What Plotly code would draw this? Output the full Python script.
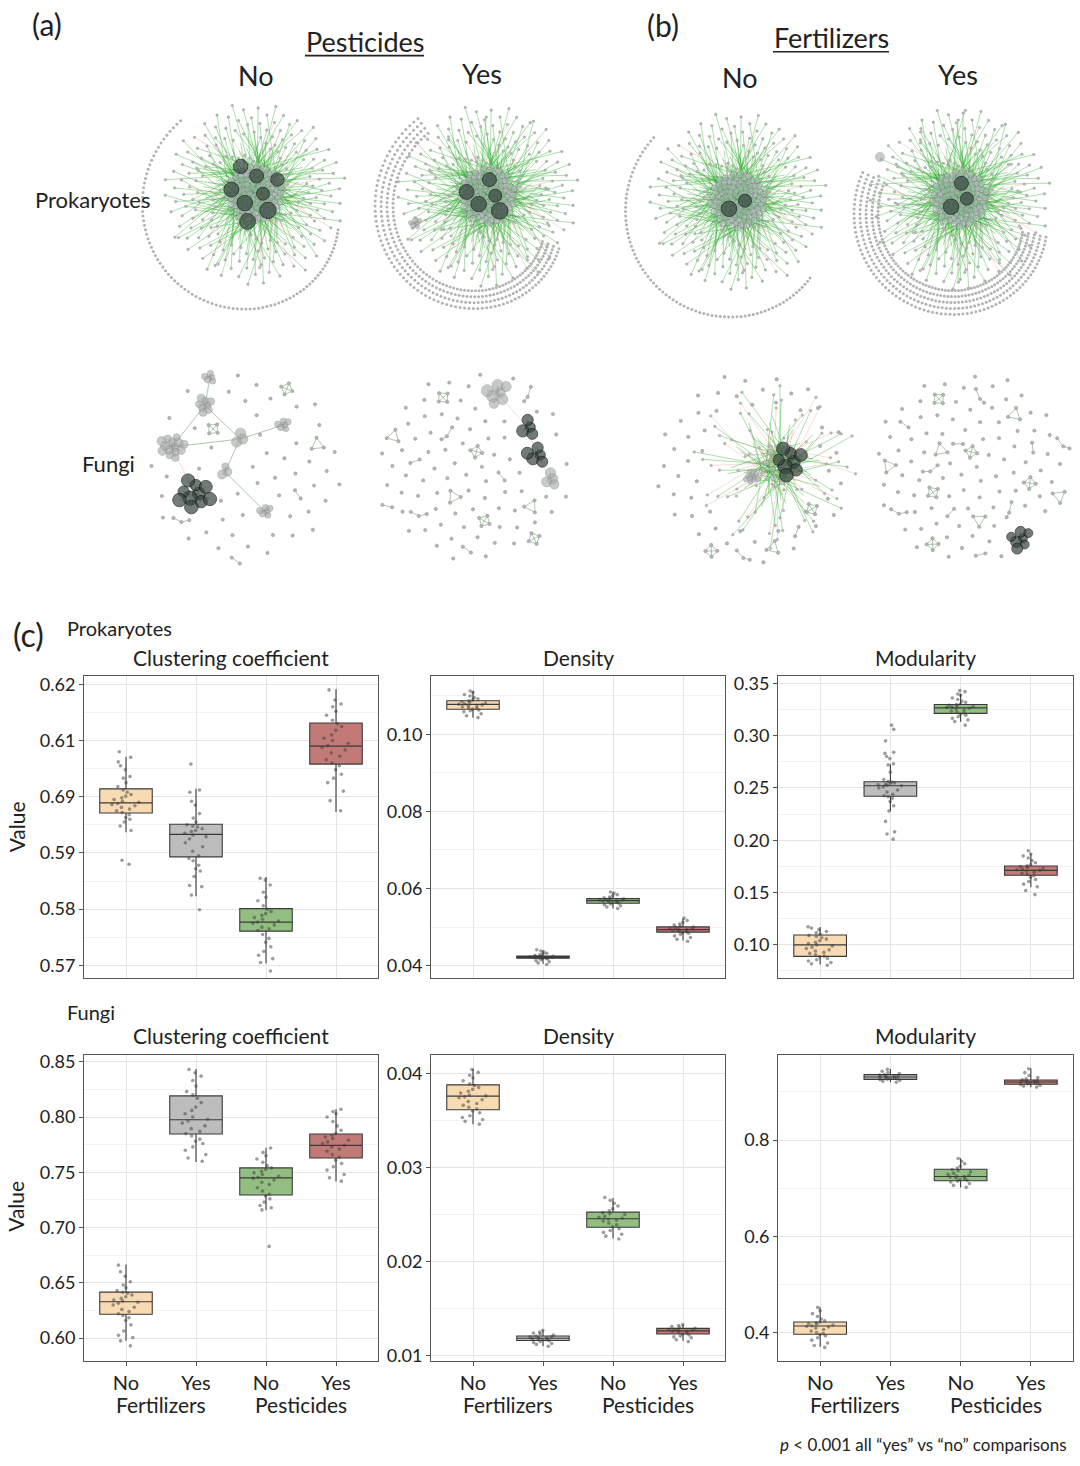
import math
import plotly.graph_objects as go

W, H = 1080, 1466
FONT = "Lato"

# ---------------------------------------------------------------- (c) box plot data
groups = ["No", "Yes", "No", "Yes"]          # Fertilizers No/Yes, Pesticides No/Yes
group_fill = ["#f8dbb2", "#bdbdbd", "#93be82", "#c27a77"]

# per group: lower whisker, Q1, median, Q3, upper whisker
prok_clust_box = [(0.5937, 0.5971, 0.5989, 0.6014, 0.6071),
                  (0.5823, 0.5893, 0.5933, 0.5951, 0.6014),
                  (0.5704, 0.5761, 0.5777, 0.5801, 0.5857),
                  (0.5973, 0.6058, 0.6090, 0.6131, 0.6191)]
prok_clust_pts = [
    [0.5940, 0.5948, 0.5955, 0.5960, 0.5963, 0.5968, 0.5972, 0.5975, 0.5978, 0.5981, 0.5984, 0.5986,
     0.5988, 0.5990, 0.5992, 0.5995, 0.5998, 0.6001, 0.6004, 0.6008, 0.6012, 0.6018, 0.6025, 0.6033,
     0.6036, 0.6048, 0.6055, 0.6062, 0.6070, 0.6080, 0.5887, 0.5880],
    [0.5825, 0.5840, 0.5842, 0.5858, 0.5868, 0.5872, 0.5878, 0.5886, 0.5890, 0.5895, 0.5903, 0.5911,
     0.5918, 0.5925, 0.5929, 0.5932, 0.5935, 0.5938, 0.5940, 0.5943, 0.5946, 0.5948, 0.5950, 0.5955,
     0.5962, 0.5970, 0.5985, 0.5992, 0.6008, 0.6012, 0.5799, 0.6058],
    [0.5705, 0.5712, 0.5718, 0.5725, 0.5733, 0.5741, 0.5748, 0.5755, 0.5762, 0.5765, 0.5768, 0.5772,
     0.5775, 0.5777, 0.5779, 0.5782, 0.5785, 0.5789, 0.5792, 0.5796, 0.5800, 0.5806, 0.5815, 0.5821,
     0.5830, 0.5843, 0.5852, 0.5855, 0.5690],
    [0.5975, 0.5993, 0.6010, 0.6025, 0.6033, 0.6040, 0.6048, 0.6055, 0.6060, 0.6066, 0.6072, 0.6078,
     0.6083, 0.6088, 0.6091, 0.6095, 0.6100, 0.6104, 0.6110, 0.6118, 0.6125, 0.6130, 0.6136, 0.6145,
     0.6152, 0.6160, 0.6165, 0.6172, 0.6190]]
prok_clust_ticks = [0.57, 0.58, 0.59, 0.60, 0.61, 0.62]
prok_clust_labels = ["0.57", "0.58", "0.59", "0.69", "0.61", "0.62"]

prok_dens_box = [(0.1043, 0.10646, 0.10774, 0.10868, 0.1113),
                 (0.0405, 0.0419, 0.0422, 0.0425, 0.0440),
                 (0.0548, 0.05616, 0.05685, 0.05736, 0.0590),
                 (0.0465, 0.04868, 0.04934, 0.05003, 0.0522)]
prok_dens_pts = [
    [0.1043, 0.1048, 0.1053, 0.1058, 0.1061, 0.1063, 0.1065, 0.1067, 0.1069, 0.1071, 0.1073, 0.1075,
     0.1076, 0.1078, 0.1079, 0.1081, 0.1083, 0.1085, 0.1087, 0.1089, 0.1092, 0.1095, 0.1099, 0.1103,
     0.1108, 0.1112],
    [0.0403, 0.0407, 0.0410, 0.0413, 0.0415, 0.0417, 0.0418, 0.0419, 0.0420, 0.0421, 0.0421, 0.0422,
     0.0422, 0.0423, 0.0424, 0.0424, 0.0425, 0.0426, 0.0428, 0.0430, 0.0432, 0.0435, 0.0438, 0.0441],
    [0.0548, 0.0552, 0.0555, 0.0558, 0.0560, 0.0562, 0.0563, 0.0565, 0.0566, 0.0567, 0.0568, 0.0569,
     0.0570, 0.0571, 0.0572, 0.0573, 0.0574, 0.0576, 0.0578, 0.0581, 0.0584, 0.0588, 0.0591],
    [0.0463, 0.0468, 0.0473, 0.0477, 0.0481, 0.0484, 0.0486, 0.0488, 0.0490, 0.0492, 0.0493, 0.0494,
     0.0495, 0.0497, 0.0499, 0.0500, 0.0502, 0.0505, 0.0508, 0.0512, 0.0517, 0.0523]]
prok_dens_ticks = [0.04, 0.06, 0.08, 0.10]
prok_dens_labels = ["0.04", "0.06", "0.08", "0.10"]

prok_mod_box = [(0.0812, 0.0890, 0.1000, 0.1094, 0.1170),
                (0.2277, 0.2421, 0.2521, 0.2559, 0.2725),
                (0.3133, 0.3212, 0.3265, 0.3297, 0.3400),
                (0.1550, 0.1665, 0.1712, 0.1753, 0.1870)]
prok_mod_pts = [
    [0.0805, 0.0818, 0.0830, 0.0845, 0.0858, 0.0870, 0.0885, 0.0892, 0.0905, 0.0918, 0.0928, 0.0940,
     0.0952, 0.0965, 0.0978, 0.0990, 0.1000, 0.1012, 0.1025, 0.1040, 0.1055, 0.1068, 0.1080, 0.1090,
     0.1100, 0.1115, 0.1128, 0.1145, 0.1160, 0.1172],
    [0.2010, 0.2060, 0.2080, 0.2180, 0.2280, 0.2330, 0.2370, 0.2400, 0.2415, 0.2425, 0.2440, 0.2460,
     0.2480, 0.2500, 0.2510, 0.2520, 0.2525, 0.2530, 0.2535, 0.2540, 0.2548, 0.2555, 0.2562, 0.2580,
     0.2650, 0.2720, 0.2730, 0.2780, 0.2800, 0.2830, 0.2840, 0.2950, 0.3060, 0.3100],
    [0.3100, 0.3135, 0.3150, 0.3165, 0.3180, 0.3195, 0.3205, 0.3215, 0.3225, 0.3235, 0.3245, 0.3255,
     0.3262, 0.3268, 0.3272, 0.3278, 0.3284, 0.3290, 0.3296, 0.3305, 0.3318, 0.3330, 0.3345, 0.3360,
     0.3385, 0.3398, 0.3420, 0.3430],
    [0.1480, 0.1520, 0.1555, 0.1580, 0.1605, 0.1625, 0.1645, 0.1660, 0.1672, 0.1685, 0.1695, 0.1705,
     0.1712, 0.1718, 0.1725, 0.1732, 0.1740, 0.1748, 0.1755, 0.1768, 0.1785, 0.1805, 0.1830, 0.1850,
     0.1868, 0.1900]]
prok_mod_ticks = [0.10, 0.15, 0.20, 0.25, 0.30, 0.35]
prok_mod_labels = ["0.10", "0.15", "0.20", "0.25", "0.30", "0.35"]

fungi_clust_box = [(0.5976, 0.6216, 0.6329, 0.6416, 0.6666),
                   (0.7594, 0.7847, 0.7975, 0.8191, 0.8434),
                   (0.7157, 0.7295, 0.7450, 0.7540, 0.7722),
                   (0.7417, 0.7630, 0.7744, 0.7847, 0.8071)]
fungi_clust_pts = [
    [0.5930, 0.5975, 0.6005, 0.6025, 0.6065, 0.6120, 0.6160, 0.6185, 0.6205, 0.6220, 0.6240, 0.6260,
     0.6280, 0.6300, 0.6315, 0.6325, 0.6335, 0.6345, 0.6360, 0.6375, 0.6390, 0.6405, 0.6415, 0.6430,
     0.6455, 0.6480, 0.6510, 0.6560, 0.6600, 0.6660],
    [0.7600, 0.7630, 0.7660, 0.7700, 0.7730, 0.7760, 0.7780, 0.7800, 0.7830, 0.7850, 0.7870, 0.7895,
     0.7920, 0.7945, 0.7965, 0.7980, 0.8000, 0.8030, 0.8060, 0.8090, 0.8130, 0.8170, 0.8200, 0.8230,
     0.8280, 0.8330, 0.8370, 0.8400, 0.8430],
    [0.6830, 0.7160, 0.7180, 0.7200, 0.7230, 0.7260, 0.7285, 0.7300, 0.7330, 0.7360, 0.7390, 0.7410,
     0.7430, 0.7445, 0.7455, 0.7465, 0.7480, 0.7495, 0.7510, 0.7525, 0.7540, 0.7560, 0.7590, 0.7620,
     0.7650, 0.7680, 0.7720],
    [0.7420, 0.7450, 0.7480, 0.7520, 0.7550, 0.7580, 0.7610, 0.7635, 0.7660, 0.7690, 0.7710, 0.7730,
     0.7745, 0.7760, 0.7775, 0.7790, 0.7805, 0.7820, 0.7835, 0.7850, 0.7880, 0.7920, 0.7960, 0.8000,
     0.8030, 0.8050, 0.8070]]
fungi_clust_ticks = [0.60, 0.65, 0.70, 0.75, 0.80, 0.85]
fungi_clust_labels = ["0.60", "0.65", "0.70", "0.75", "0.80", "0.85"]

fungi_dens_box = [(0.0346, 0.03613, 0.03758, 0.03877, 0.04045),
                  (0.0110, 0.01162, 0.01186, 0.0121, 0.0127),
                  (0.02244, 0.02364, 0.02455, 0.02525, 0.02676),
                  (0.0116, 0.0123, 0.01264, 0.0129, 0.0133)]
fungi_dens_pts = [
    [0.0346, 0.0349, 0.0351, 0.0353, 0.0355, 0.0358, 0.0360, 0.0362, 0.0364, 0.0366, 0.0368, 0.0370,
     0.0372, 0.0374, 0.0375, 0.0376, 0.0377, 0.0379, 0.0381, 0.0383, 0.0385, 0.0387, 0.0389, 0.0392,
     0.0395, 0.0398, 0.0401, 0.0404],
    [0.0110, 0.0112, 0.0113, 0.0114, 0.0115, 0.0116, 0.0117, 0.0117, 0.0118, 0.0118, 0.0119, 0.0119,
     0.0120, 0.0120, 0.0121, 0.0122, 0.0123, 0.0124, 0.0125, 0.0127],
    [0.0224, 0.0227, 0.0229, 0.0231, 0.0233, 0.0235, 0.0237, 0.0239, 0.0241, 0.0243, 0.0244, 0.0245,
     0.0246, 0.0247, 0.0248, 0.0250, 0.0251, 0.0252, 0.0254, 0.0256, 0.0259, 0.0262, 0.0265, 0.0268],
    [0.0115, 0.0117, 0.0119, 0.0120, 0.0121, 0.0122, 0.0123, 0.0124, 0.0125, 0.0126, 0.0126, 0.0127,
     0.0127, 0.0128, 0.0128, 0.0129, 0.0130, 0.0131, 0.0132, 0.0133]]
fungi_dens_ticks = [0.01, 0.02, 0.03, 0.04]
fungi_dens_labels = ["0.01", "0.02", "0.03", "0.04"]

fungi_mod_box = [(0.3712, 0.3973, 0.4144, 0.4226, 0.4535),
                 (0.9198, 0.9261, 0.9309, 0.9358, 0.9473),
                 (0.7018, 0.7156, 0.7245, 0.7395, 0.7622),
                 (0.9095, 0.9158, 0.9206, 0.9247, 0.9490)]
fungi_mod_pts = [
    [0.3700, 0.3740, 0.3790, 0.3850, 0.3900, 0.3940, 0.3965, 0.3985, 0.4010, 0.4040, 0.4070, 0.4100,
     0.4125, 0.4140, 0.4150, 0.4165, 0.4180, 0.4195, 0.4210, 0.4225, 0.4250, 0.4290, 0.4340, 0.4400,
     0.4460, 0.4530],
    [0.9200, 0.9220, 0.9240, 0.9255, 0.9265, 0.9275, 0.9285, 0.9295, 0.9305, 0.9310, 0.9318, 0.9328,
     0.9340, 0.9350, 0.9362, 0.9380, 0.9400, 0.9430, 0.9470],
    [0.7020, 0.7060, 0.7100, 0.7130, 0.7150, 0.7165, 0.7180, 0.7200, 0.7220, 0.7235, 0.7245, 0.7255,
     0.7270, 0.7290, 0.7310, 0.7340, 0.7370, 0.7390, 0.7420, 0.7460, 0.7510, 0.7560, 0.7620],
    [0.9100, 0.9120, 0.9140, 0.9155, 0.9165, 0.9180, 0.9192, 0.9200, 0.9208, 0.9215, 0.9222, 0.9232,
     0.9240, 0.9250, 0.9270, 0.9300, 0.9340, 0.9400, 0.9480]]
fungi_mod_ticks = [0.4, 0.6, 0.8]
fungi_mod_labels = ["0.4", "0.6", "0.8"]

panels = [
    ("Clustering coefficient", prok_clust_box, prok_clust_pts, [0.5677, 0.6214], prok_clust_ticks, prok_clust_labels),
    ("Density", prok_dens_box, prok_dens_pts, [0.0367, 0.1150], prok_dens_ticks, prok_dens_labels),
    ("Modularity", prok_mod_box, prok_mod_pts, [0.068, 0.3566], prok_mod_ticks, prok_mod_labels),
    ("Clustering coefficient", fungi_clust_box, fungi_clust_pts, [0.5796, 0.8563], fungi_clust_ticks, fungi_clust_labels),
    ("Density", fungi_dens_box, fungi_dens_pts, [0.00947, 0.04197], fungi_dens_ticks, fungi_dens_labels),
    ("Modularity", fungi_mod_box, fungi_mod_pts, [0.3424, 0.977], fungi_mod_ticks, fungi_mod_labels),
]
col_px = [(84, 378), (431, 725), (778, 1073)]
row_px = [(676, 980), (1057, 1365)]

# ---------------------------------------------------------------- (a)/(b) networks
# prokaryote networks: one big hub plus an arc of unconnected OTUs
prok_hub_xy = [(255, 190), (488, 192), (738, 197), (960, 195)]
prok_hub_reach = [92, 92, 90, 92]
prok_spokes = [480, 500, 480, 520]
prok_dark_nodes = [8, 5, 2, 3]
prok_ring_xy = [(252, 208), (484, 212), (735, 212), (958, 215)]
prok_ring_nodes = [90, 320, 80, 380]
prok_ring_rows = [1, 4, 1, 5]
prok_ring_arc = [(232, 12), (236, 24), (224, 40), (206, 12)]
prok_ring_r = [(116, 88), (118, 82), (113, 98), (106, 90)]

# fungal networks: scattered small modules plus a few clusters
fungi_xy = [(245, 465), (475, 465), (752, 465), (970, 465)]
fungi_nodes = [78, 100, 88, 104]
fungi_module_every = [9, 6, 8, 5]
fungi_clusters = [  # offset x, offset y, nodes, node size, dark
    [(-73, -20, 14, 8, 0), (-50, 27, 10, 13, 1), (-40, -62, 8, 7, 0), (-35, -90, 5, 6, 0),
     (-5, -28, 3, 9, 0), (38, -42, 6, 6, 0), (20, 45, 6, 6, 0), (-20, 5, 3, 8, 0)],
    [(22, -75, 7, 11, 0), (52, -40, 4, 11, 1), (62, -12, 5, 11, 1), (75, 12, 4, 9, 0)],
    [(38, -5, 8, 13, 1), (0, 10, 10, 5, 0)],
    [(50, 72, 7, 10, 1)],
]
fungi_links = [
    [(0, 1), (0, 4), (2, 3), (2, 4), (4, 5), (4, 7), (7, 6), (0, 2)],
    [(1, 2), (2, 3), (0, 1)],
    [(0, 1)],
    [],
]

GA = math.pi * (3 - math.sqrt(5))


def frac(v):
    return v - math.floor(v)


def sunflower(n, radius):
    return [(radius * math.sqrt((i + 0.5) / n) * math.cos(i * GA),
             radius * math.sqrt((i + 0.5) / n) * math.sin(i * GA)) for i in range(n)]


E_GREEN, E_PINK, E_MOD = [[], []], [[], []], [[], []]
N_SMALL, N_TIP, N_RING, N_CORE = [[], []], [[], []], [[], []], [[], []]
N_GREY, N_DARK = [[], [], []], [[], [], []]


def seg(store, x0, y0, x1, y1):
    store[0] += [x0, x1, None]
    store[1] += [y0, y1, None]


def add_node(store, x, y, s=None):
    store[0].append(x)
    store[1].append(y)
    if s is not None:
        store[2].append(s)


def hub(cx, cy, reach, n_spokes, n_core, core_r, n_dark, dark_r, pink_every, dark_size=15):
    core = [(cx + dx, cy + dy) for dx, dy in sunflower(n_core, core_r)]
    for i in range(n_spokes):
        a = 2 * math.pi * frac(i * 0.6180339887)
        length = reach * (0.2 + 0.8 * frac(i * 0.4142135624) ** 1.7)
        sx, sy = core[int(frac(i * 0.7548776662) * n_core)]
        ex, ey = cx + length * math.cos(a), cy + length * math.sin(a)
        seg(E_PINK if i % pink_every == 0 else E_GREEN, sx, sy, ex, ey)
        if i % 3 == 0 or length > 0.6 * reach:
            add_node(N_TIP, ex, ey)
    for x, y in core:
        add_node(N_CORE, x, y)
    for k, (dx, dy) in enumerate(sunflower(n_dark, dark_r)):
        add_node(N_DARK, cx + dx, cy + dy, dark_size - 2 + 4 * frac(k * 0.618))


def ring(cx, cy, n, rows, arc, radius, gap=6):
    per = n // rows
    for k in range(rows):
        for j in range(per):
            t = j / (per - 1)
            a = math.radians(arc[0] + (arc[1] - arc[0]) * t)
            r = radius[0] + (radius[1] - radius[0]) * t - k * gap
            add_node(N_RING, cx + r * math.cos(a), cy + r * math.sin(a))


def module(x, y, i, kind):
    rot = i * 0.9
    if kind == 0:      # four fully linked OTUs
        pts = [(x + 6 * math.cos(rot + q * math.pi / 2), y + 6 * math.sin(rot + q * math.pi / 2)) for q in range(4)]
        links = [(0, 1), (1, 2), (2, 3), (3, 0), (0, 2), (1, 3)]
    elif kind == 1:    # pair
        pts = [(x - 5 * math.cos(rot), y - 5 * math.sin(rot)), (x + 5 * math.cos(rot), y + 5 * math.sin(rot))]
        links = [(0, 1)]
    elif kind == 2:    # triangle
        pts = [(x + 7 * math.cos(rot + q * 2.094), y + 7 * math.sin(rot + q * 2.094)) for q in range(3)]
        links = [(0, 1), (1, 2), (2, 0)]
    else:              # chain of three
        pts = [(x - 8 * math.cos(rot), y - 8 * math.sin(rot)), (x, y + 3),
               (x + 8 * math.cos(rot), y + 8 * math.sin(rot))]
        links = [(0, 1), (1, 2)]
    for p, q in links:
        seg(E_MOD, pts[p][0], pts[p][1], pts[q][0], pts[q][1])
    for px, py in pts:
        add_node(N_SMALL, px, py)


def cluster(x, y, n, size, dark):
    spread = size * 0.42 * math.sqrt(n)
    for dx, dy in sunflower(n, spread):
        seg(E_MOD, x, y, x + dx, y + dy)
        add_node(N_DARK if dark else N_GREY, x + dx, y + dy, size * (0.85 + 0.3 * frac((dx + dy) * 0.37)))


# prokaryotes
for k in range(4):
    cx, cy = prok_hub_xy[k]
    ring(*prok_ring_xy[k], prok_ring_nodes[k], prok_ring_rows[k], prok_ring_arc[k], prok_ring_r[k])
    hub(cx, cy, prok_hub_reach[k], prok_spokes[k], 110, 28, prok_dark_nodes[k], 8 + 3 * prok_dark_nodes[k], 13)
# satellite module in pesticide "yes" and lone node in fertilizer "yes"
seg(E_GREEN, 415, 220, 470, 200)
cluster(415, 220, 6, 5, 0)
add_node(N_GREY, 880, 153, 9)

# fungi
for k in range(4):
    cx, cy = fungi_xy[k]
    holes = [(cx + c[0], cy + c[1], 14 + c[2]) for c in fungi_clusters[k]]
    if k == 2:
        holes.append((cx + 10, cy, 60))
    kinds = 0
    for i, (dx, dy) in enumerate(sunflower(fungi_nodes[k], 97)):
        x, y = cx + dx, cy + dy
        if any(math.hypot(x - hx, y - hy) < hr for hx, hy, hr in holes):
            continue
        if i % fungi_module_every[k] == 2:
            module(x, y, i, kinds % 4)
            kinds += 1
        else:
            add_node(N_SMALL, x, y)
    if k == 2:
        hub(cx + 25, cy - 2, 85, 160, 12, 18, 0, 5, 3)
    cl = fungi_clusters[k]
    for a, b in fungi_links[k]:
        seg(E_PINK if (cl[a][4] or cl[b][4]) else E_MOD,
            cx + cl[a][0], cy + cl[a][1], cx + cl[b][0], cy + cl[b][1])
    for c in cl:
        cluster(cx + c[0], cy + c[1], c[2], c[3], c[4])

fig = go.Figure()
NX, NY = "x7", "y7"
fig.add_trace(go.Scatter(x=E_PINK[0], y=E_PINK[1], mode="lines", xaxis=NX, yaxis=NY,
                         line=dict(color="rgba(235,120,120,0.35)", width=0.8), hoverinfo="skip"))
fig.add_trace(go.Scatter(x=E_GREEN[0], y=E_GREEN[1], mode="lines", xaxis=NX, yaxis=NY,
                         line=dict(color="rgba(40,170,40,0.55)", width=0.7), hoverinfo="skip"))
fig.add_trace(go.Scatter(x=E_MOD[0], y=E_MOD[1], mode="lines", xaxis=NX, yaxis=NY,
                         line=dict(color="rgba(100,150,100,0.75)", width=0.7), hoverinfo="skip"))
fig.add_trace(go.Scatter(x=N_RING[0], y=N_RING[1], mode="markers", xaxis=NX, yaxis=NY,
                         marker=dict(size=3, color="#b3b3b3"), hoverinfo="skip"))
fig.add_trace(go.Scatter(x=N_TIP[0], y=N_TIP[1], mode="markers", xaxis=NX, yaxis=NY,
                         marker=dict(size=2.6, color="#b8b8b8", line=dict(width=0.3, color="#8a8a8a")),
                         hoverinfo="skip"))
fig.add_trace(go.Scatter(x=N_SMALL[0], y=N_SMALL[1], mode="markers", xaxis=NX, yaxis=NY,
                         marker=dict(size=3.4, color="#b5b5b5", line=dict(width=0.4, color="#888888")),
                         hoverinfo="skip"))
fig.add_trace(go.Scatter(x=N_CORE[0], y=N_CORE[1], mode="markers", xaxis=NX, yaxis=NY,
                         marker=dict(size=6, color="rgba(195,200,205,0.55)", line=dict(width=0.5, color="#7a7f84")),
                         hoverinfo="skip"))
fig.add_trace(go.Scatter(x=N_GREY[0], y=N_GREY[1], mode="markers", xaxis=NX, yaxis=NY,
                         marker=dict(size=N_GREY[2], color="rgba(170,172,172,0.9)", line=dict(width=0.6, color="#8a8a8a")),
                         hoverinfo="skip"))
fig.add_trace(go.Scatter(x=N_DARK[0], y=N_DARK[1], mode="markers", xaxis=NX, yaxis=NY,
                         marker=dict(size=N_DARK[2], color="#36453f", line=dict(width=1, color="#111111")),
                         hoverinfo="skip"))

# box plots
layout = dict(width=W, height=H, margin=dict(l=0, r=0, t=0, b=0), paper_bgcolor="white",
              plot_bgcolor="white", showlegend=False, boxmode="overlay",
              font=dict(family=FONT, color="#222222"))
annotations = []


def P(x, y):
    return x / W, 1 - y / H


for k, (title, box, pts, rng, ticks, labels) in enumerate(panels):
    n = "" if k == 0 else str(k + 1)
    r, c = divmod(k, 3)
    x0, x1 = col_px[c]
    y0, y1 = row_px[r]
    for g in range(4):
        lo, q1, med, q3, hi = box[g]
        fig.add_trace(go.Box(x=[g + 1], q1=[q1], median=[med], q3=[q3], lowerfence=[lo], upperfence=[hi],
                             orientation="v", width=0.75, whiskerwidth=0, boxpoints=False,
                             fillcolor=group_fill[g], line=dict(color="#3a3a3a", width=1.1),
                             xaxis="x" + n, yaxis="y" + n, hoverinfo="skip"))
        fig.add_trace(go.Box(x=[g + 1] * len(pts[g]), y=pts[g], orientation="v", width=0.75,
                             boxpoints="all", jitter=0.55, pointpos=0, whiskerwidth=0,
                             fillcolor="rgba(0,0,0,0)", line=dict(color="rgba(0,0,0,0)", width=0),
                             marker=dict(size=3.6, color="rgba(60,60,60,0.5)"),
                             xaxis="x" + n, yaxis="y" + n, hoveron="points"))
    step = ticks[1] - ticks[0]
    minor = [t + step / 2 for t in [ticks[0] - step] + ticks if rng[0] < t + step / 2 < rng[1]]
    layout["xaxis" + n] = dict(domain=[x0 / W, x1 / W], range=[0.4, 4.6], anchor="y" + n,
                               tickmode="array", tickvals=[1, 2, 3, 4], ticktext=groups,
                               showticklabels=(r == 1), ticks="outside" if r == 1 else "",
                               ticklen=4, tickcolor="#555555", tickfont=dict(size=20, color="#222222"),
                               showgrid=True, gridcolor="#e4e4e4", zeroline=False,
                               showline=True, linecolor="#555555", linewidth=1, mirror=True)
    layout["yaxis" + n] = dict(domain=[1 - y1 / H, 1 - y0 / H], range=rng, anchor="x" + n,
                               tickmode="array", tickvals=ticks, ticktext=labels,
                               ticks="outside", ticklen=4, tickcolor="#555555",
                               tickfont=dict(size=18, color="#222222"),
                               showgrid=True, gridcolor="#e4e4e4", zeroline=False,
                               minor=dict(tickmode="array", tickvals=minor, showgrid=True,
                                          gridcolor="#f2f2f2", ticks=""),
                               showline=True, linecolor="#555555", linewidth=1, mirror=True)
    tx, ty = P((x0 + x1) / 2, y0 - 19)
    annotations.append(dict(text=title, x=tx, y=ty, xref="paper", yref="paper", showarrow=False,
                            font=dict(size=21), xanchor="center", yanchor="middle"))
    if r == 1:
        for pos, lab in [(1.5, "Fertilizers"), (3.5, "Pesticides")]:
            annotations.append(dict(text=lab, x=pos, y=1 - 1409 / H, xref="x" + n, yref="paper",
                                    showarrow=False, font=dict(size=21), yanchor="middle"))

layout["xaxis7"] = dict(domain=[0, 1], range=[0, W], anchor="y7", visible=False)
layout["yaxis7"] = dict(domain=[1 - 600 / H, 1], range=[600, 0], anchor="x7", visible=False)

texts = [  # text, x px, y px, size, anchor
    ("(a)", 47, 19, 30, "center"), ("(b)", 663, 20, 30, "center"),
    ("Pesticides", 365, 37, 27, "center"), ("Fertilizers", 831, 33, 27, "center"),
    ("No", 256, 71, 27, "center"), ("Yes", 482, 69, 27, "center"),
    ("No", 740, 73, 27, "center"), ("Yes", 958, 70, 27, "center"),
    ("Prokaryotes", 92, 196, 22, "center"), ("Fungi", 108, 462, 22, "center"),
    ("(c)", 28, 634, 32, "center"), ("Prokaryotes", 65, 627, 20, "left"),
    ("Fungi", 65, 1014, 20, "left"),
    ("<i>p</i> < 0.001 all \u201cyes\u201d vs \u201cno\u201d comparisons", 1069, 1449, 17, "right"),
]
for t, x, y, s, anc in texts:
    px, py = P(x, y)
    annotations.append(dict(text=t, x=px, y=py, xref="paper", yref="paper", showarrow=False,
                            font=dict(size=s), xanchor=anc, yanchor="middle"))
for y in (828, 1210):
    annotations.append(dict(text="Value", x=16 / W, y=1 - y / H, xref="paper", yref="paper",
                            showarrow=False, textangle=-90, font=dict(size=21),
                            xanchor="center", yanchor="middle"))
layout["annotations"] = annotations
layout["shapes"] = [
    dict(type="line", xref="x7", yref="y7", x0=305, x1=424, y0=51, y1=51, line=dict(color="#222", width=1.6)),
    dict(type="line", xref="x7", yref="y7", x0=773, x1=889, y0=47, y1=47, line=dict(color="#222", width=1.6)),
]
fig.update_layout(**layout)
fig.write_html("out.html", config={"displayModeBar": False},
               post_script="document.body.style.margin='0';")
